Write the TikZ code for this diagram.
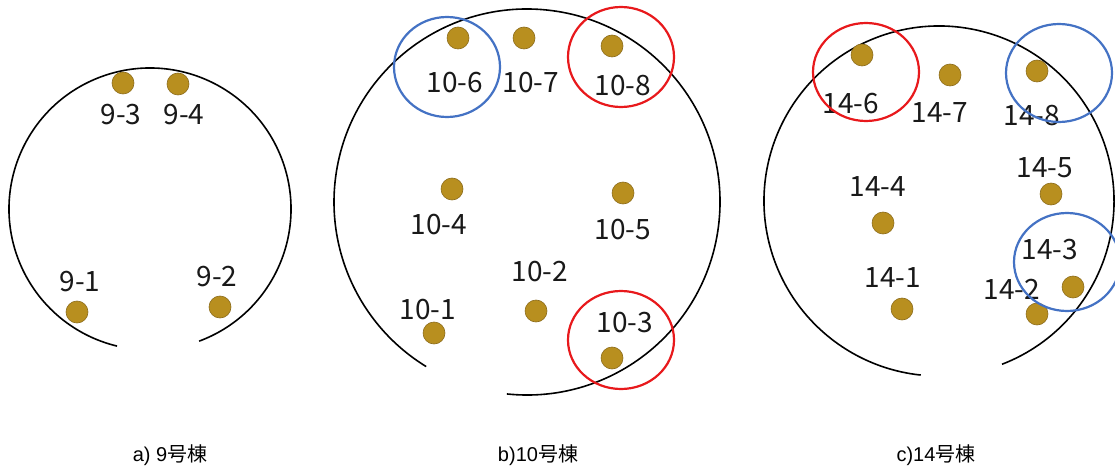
\documentclass[tikz,border=0pt]{standalone}
\usepackage{fontspec}
\newfontfamily\cjk{Noto Sans CJK JP}
\newfontfamily\latcap{Liberation Sans}
\definecolor{dotfill}{HTML}{B88F1F}
\definecolor{dotline}{HTML}{8C6C1C}
\definecolor{hlblue}{HTML}{4472C4}
\definecolor{hlred}{HTML}{E8191C}
\begin{document}
\begin{tikzpicture}[x=1pt,y=-1pt,
  dot/.style={circle,fill=dotfill,draw=dotline,line width=0.6pt,minimum size=22pt,inner sep=0pt},
  lbl/.style={font=\cjk\fontsize{28}{30}\selectfont,inner sep=0pt,text=black!90},
  captxt/.style={font=\latcap\fontsize{20}{22}\selectfont,inner sep=0pt},
  wall/.style={line width=1.6pt,black},
  hlb/.style={line width=2.2pt,draw=hlblue},
  hlr/.style={line width=2.2pt,draw=hlred}]
\useasboundingbox (0,0) rectangle (1115,473);
\fill[white] (0,0) rectangle (1115,473);
% ---------- a) ----------
\draw[wall] (150,209) ++(69.6:141) arc[start angle=69.6,end angle=-256.5,radius=141];
\node[dot] (a3) at (123,83) {};
\node[dot] (a4) at (178,84) {};
\node[dot] (a1) at (77,312) {};
\node[dot] (a2) at (220,307) {};
\node[lbl] (la3) at (121,115) {9-3};
\node[lbl] (la4) at (184,115) {9-4};
\node[lbl] (la1) at (80,282) {9-1};
\node[lbl] (la2) at (217,277) {9-2};
% ---------- b) ----------
\draw[wall] (527,202) ++(96:193) arc[start angle=96,end angle=-238.5,radius=193];
\node[dot] (b6) at (458,38) {};
\node[dot] (b7) at (524,38) {};
\node[dot] (b8) at (612,46) {};
\node[dot] (b4) at (452,189) {};
\node[dot] (b5) at (623,193) {};
\node[dot] (b2) at (536,311) {};
\node[dot] (b1) at (434,333) {};
\node[dot] (b3) at (612,358) {};
\node[lbl] (lb6) at (455,83) {10-6};
\node[lbl] (lb7) at (531,83) {10-7};
\node[lbl] (lb8) at (623,86) {10-8};
\node[lbl] (lb4) at (439,225) {10-4};
\node[lbl] (lb5) at (623,230) {10-5};
\node[lbl] (lb2) at (540,272) {10-2};
\node[lbl] (lb1) at (428,310) {10-1};
\node[lbl] (lb3) at (625,323) {10-3};
\draw[hlb] (447,67) ellipse[x radius=53,y radius=50];
\draw[hlr] (621,57) ellipse[x radius=53,y radius=50];
\draw[hlr] (621,340) ellipse[x radius=53,y radius=49];
% ---------- c) ----------
\draw[wall] (939,201) ++(68.9:175) arc[start angle=68.9,end angle=-264,radius=175];
\node[dot] (c6) at (862,55) {};
\node[dot] (c7) at (950,75) {};
\node[dot] (c8) at (1037,71) {};
\node[dot] (c5) at (1051,194) {};
\node[dot] (c4) at (883,223) {};
\node[dot] (c3) at (1073,287) {};
\node[dot] (c1) at (902,309) {};
\node[dot] (c2) at (1037,314) {};
\node[lbl] (lc6) at (851,104) {14-6};
\node[lbl] (lc7) at (940,113) {14-7};
\node[lbl] (lc8) at (1032,116) {14-8};
\node[lbl] (lc5) at (1045,168) {14-5};
\node[lbl] (lc4) at (878,187) {14-4};
\node[lbl] (lc3) at (1050,250) {14-3};
\node[lbl] (lc1) at (893,278) {14-1};
\node[lbl] (lc2) at (1012,289) {14-2};
\draw[hlr] (866,72) ellipse[x radius=53,y radius=49];
\draw[hlb] (1059,73) ellipse[x radius=53,y radius=49];
\draw[hlb] (1067,262) ellipse[x radius=53,y radius=49];
% ---------- captions ----------
\node[captxt] (ca) at (170,455) {a) 9{\cjk 号棟}};
\node[captxt] (cb) at (538,455) {b)10{\cjk 号棟}};
\node[captxt] (cc) at (936,455) {c)14{\cjk 号棟}};
\end{tikzpicture}
\end{document}
